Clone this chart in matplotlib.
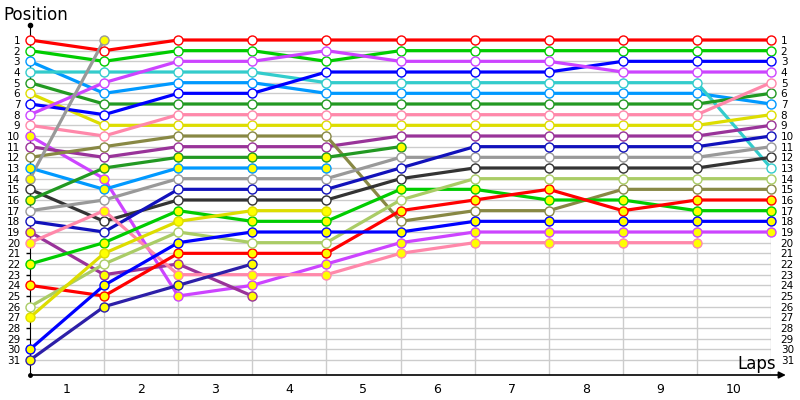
import numpy as np
import matplotlib.pyplot as plt

N = np.nan
laps = list(range(11))
lap_labels = [str(i) for i in range(1, 11)]
positions = list(range(1, 32))

# position of each driver after each lap (nan = no longer running)
red_a = [1, 2, 1, 1, 1, 1, 1, 1, 1, 1, 1]
green_a = [2, 3, 2, 2, 3, 2, 2, 2, 2, 2, 2]
lblue_a = [3, 6, 5, 5, 6, 6, 6, 6, 6, 6, 7]
cyan_a = [4, 4, 4, 4, 5, 5, 5, 5, 5, 5, 13]
forest_a = [5, 7, 7, 7, 7, 7, 7, 7, 7, 7, 6]
yellow_a = [6, 9, 9, 9, 9, 9, 9, 9, 9, 9, 8]
blue_a = [7, 8, 6, 6, 4, 4, 4, 4, 3, 3, 3]
violet_a = [8, 5, 3, 3, 2, 3, 3, 3, 4, 4, 4]
pink_a = [9, 10, 8, 8, 8, 8, 8, 8, 8, 8, 5]
violet_b = [10, 14, 25, 24, 22, 20, 19, 19, 19, 19, 19]
purple_a = [11, 12, 11, 11, 11, 10, 10, 10, 10, 10, 9]
olive_a = [12, 11, 10, 10, 10, 18, 17, 17, 15, 15, 15]
lblue_b = [13, 15, 13, 13, 13, N, N, N, N, N, N]
grey_b = [14, 1, N, N, N, N, N, N, N, N, N]
dgrey_a = [15, 18, 16, 16, 16, 14, 13, 13, 13, 13, 12]
forest_b = [16, 13, 12, 12, 12, 11, N, N, N, N, N]
grey_a = [17, 16, 14, 14, 14, 12, 12, 12, 12, 12, 11]
dblue_a = [18, 19, 15, 15, 15, 13, 11, 11, 11, 11, 10]
purple_b = [19, 23, 22, 25, N, N, N, N, N, N, N]
pink_b = [20, 17, 23, 23, 23, 21, 20, 20, 20, 20, N]
green_b = [22, 20, 17, 18, 18, 15, 15, 16, 16, 17, 17]
red_b = [24, 25, 21, 21, 21, 17, 16, 15, 17, 16, 16]
ygreen_a = [26, 22, 19, 20, 20, 16, 14, 14, 14, 14, 14]
yellow_b = [27, 21, 18, 17, 17, N, N, N, N, N, N]
blue_b = [30, 24, 20, 19, 19, 19, 18, 18, 18, 18, 18]
navy_b = [31, 26, 24, 22, N, N, N, N, N, N, N]

# (series, line colour, marker fill)
drivers = [
    (red_a, '#ff0000', 'white'), (green_a, '#00cc00', 'white'),
    (lblue_a, '#0099ff', 'white'), (cyan_a, '#33cccc', 'white'),
    (forest_a, '#229922', 'white'), (yellow_a, '#dddd00', 'white'),
    (blue_a, '#0000ff', 'white'), (violet_a, '#cc44ff', 'white'),
    (pink_a, '#ff88aa', 'white'), (violet_b, '#cc44ff', '#ffff00'),
    (purple_a, '#993399', 'white'), (olive_a, '#888844', 'white'),
    (lblue_b, '#0099ff', '#ffff00'), (grey_b, '#999999', '#ffff00'),
    (dgrey_a, '#333333', 'white'), (forest_b, '#229922', '#ffff00'),
    (grey_a, '#999999', 'white'), (dblue_a, '#1111bb', 'white'),
    (purple_b, '#993399', '#ffff00'), (pink_b, '#ff88aa', '#ffff00'),
    (green_b, '#00cc00', '#ffff00'), (red_b, '#ff0000', '#ffff00'),
    (ygreen_a, '#aacc66', 'white'), (yellow_b, '#dddd00', '#ffff00'),
    (blue_b, '#0000ff', '#ffff00'), (navy_b, '#2d1fa8', '#ffff00'),
]

fig = plt.figure(figsize=(8, 4), dpi=100)
ax = fig.add_axes([30 / 800, 25 / 400, 741 / 800, 350 / 400])
yb = 31 + 15 / 10.667
yt = 1 - 15 / 10.667
ax.set_xlim(0, 10)
ax.set_ylim(yb, yt)

# grid
ax.hlines(positions, 0, 10, color='#cccccc', lw=1, zorder=1)
ax.vlines(laps[1:], 1, yb, color='#cccccc', lw=1, zorder=1)

# lines first, then all markers on top
for pos, col, fill in drivers:
    ax.plot(laps, pos, '-', color=col, lw=2.3, zorder=3, clip_on=False)
for pos, col, fill in drivers:
    ax.plot(laps, pos, 'o', ms=6.5, mfc=fill, mec=col, mew=1,
            zorder=4, clip_on=False)

for s in ['top', 'right', 'bottom']:
    ax.spines[s].set_visible(False)
ax.spines['left'].set_color('black')

ax.set_yticks(positions)
ax.set_yticklabels([str(p) for p in positions], fontsize=7.5)
ax.tick_params(axis='y', length=3, width=1, pad=4, labelright=True, right=False)
for lab in ax.get_yticklabels(which='both'):
    lab.set_fontsize(7.5)

ax.set_xticks([i + 0.5 for i in range(10)])
ax.set_xticklabels(lap_labels, fontsize=9)
ax.tick_params(axis='x', length=0, pad=6)

# x axis with arrow
ax.annotate('', xy=(10.2, yb), xytext=(0, yb), xycoords='data',
            arrowprops=dict(arrowstyle='-|>', color='black', lw=1.2,
                            mutation_scale=10, shrinkA=0, shrinkB=0),
            annotation_clip=False)
ax.plot([0], [yt], 'o', color='black', ms=3, clip_on=False)
ax.plot([0], [yb], 'o', color='black', ms=2.5, clip_on=False)

fig.text(3 / 800, 1 - 15 / 400, 'Position', fontsize=12, va='center', ha='left')
fig.text(776 / 800, 1 - 364 / 400, 'Laps', fontsize=12, va='center', ha='right')

fig.savefig('out.png', dpi=100, facecolor='white')
